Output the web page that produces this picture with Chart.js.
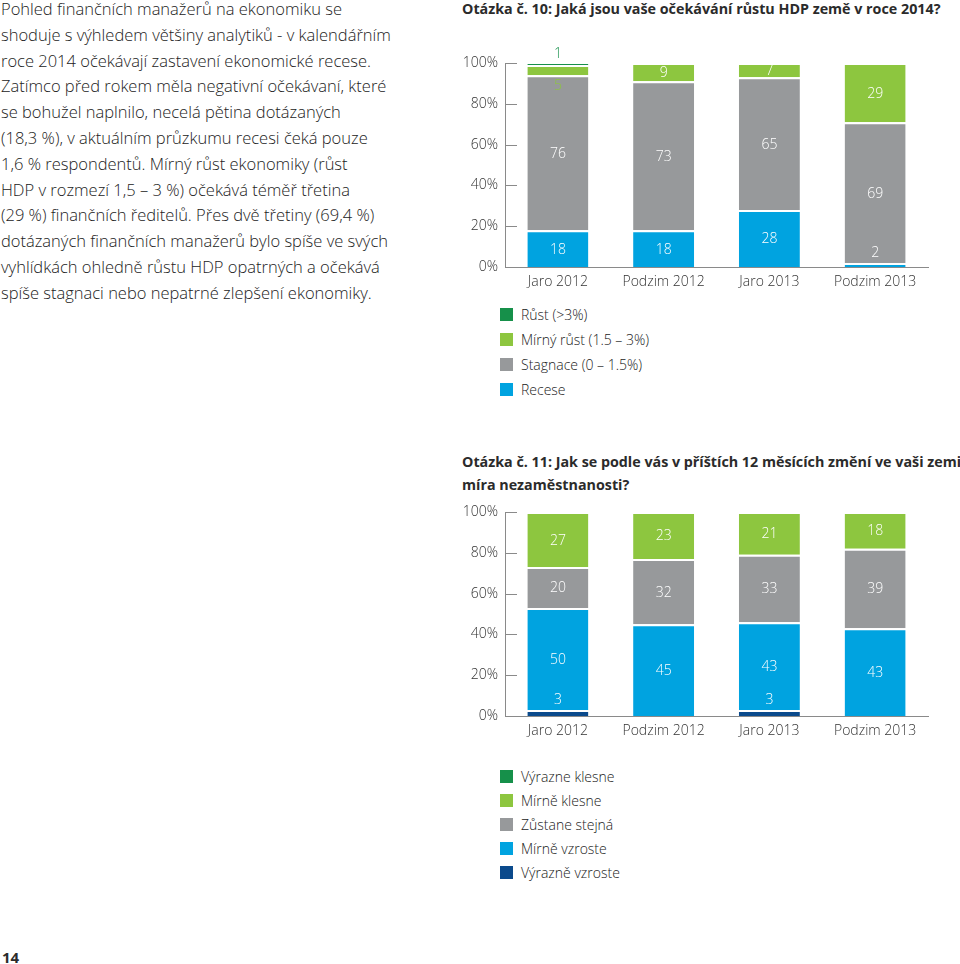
<!DOCTYPE html>
<html>
<head>
<meta charset="utf-8">
<script src="https://cdn.jsdelivr.net/npm/chart.js@4"></script>
<style>
  body { margin: 0; width: 960px; height: 964px; background: #fff; position: relative; overflow: hidden; font-family: "Open Sans", sans-serif; color: #2b2b2b; }
  .intro { position: absolute; left: 1px; top: -4px; font-size: 16.5px; line-height: 25.8px; font-weight: 300; white-space: nowrap; color: #222; }
  .title { position: absolute; left: 462px; font-size: 14.3px; font-weight: 700; line-height: 23px; white-space: nowrap; }
  .box { position: absolute; left: 455px; width: 480px; height: 260px; }
  .legend { position: absolute; font-size: 14px; font-weight: 300; color: #222; }
  .legend div { display: flex; align-items: center; white-space: nowrap; }
  .legend span { display: inline-block; width: 13px; height: 13px; margin-right: 8px; }
  .page { position: absolute; left: 2px; top: 947px; font-size: 15px; font-weight: 700; }
</style>
</head>
<body>
<div class="intro">
Pohled finančních manažerů na ekonomiku se<br>
shoduje s výhledem většiny analytiků - v kalendářním<br>
roce 2014 očekávají zastavení ekonomické recese.<br>
Zatímco před rokem měla negativní očekávaní, které<br>
se bohužel naplnilo, necelá pětina dotázaných<br>
(18,3 %), v aktuálním průzkumu recesi čeká pouze<br>
1,6 % respondentů. Mírný růst ekonomiky (růst<br>
HDP v rozmezí 1,5 – 3 %) očekává téměř třetina<br>
(29 %) finančních ředitelů. Přes dvě třetiny (69,4 %)<br>
dotázaných finančních manažerů bylo spíše ve svých<br>
vyhlídkách ohledně růstu HDP opatrných a očekává<br>
spíše stagnaci nebo nepatrné zlepšení ekonomiky.
</div>

<div class="title" style="top:-3px">Otázka č. 10: Jaká jsou vaše očekávání růstu HDP země v roce 2014?</div>
<div class="box" style="top:40px"><canvas id="gdpChart" width="480" height="260"></canvas></div>
<div class="legend" id="gdpLegend" style="left:500px; top:302px"></div>

<div class="title" style="top:450px">Otázka č. 11: Jak se podle vás v příštích 12 měsících změní ve vaši zemi<br>míra nezaměstnanosti?</div>
<div class="box" style="top:489px"><canvas id="jobsChart" width="480" height="260"></canvas></div>
<div class="legend" id="jobsLegend" style="left:500px; top:764px"></div>

<div class="page">14</div>

<script>
const periods = ['Jaro 2012', 'Podzim 2012', 'Jaro 2013', 'Podzim 2013'];
const percentTicks = [0, 20, 40, 60, 80, 100];

// Otázka 10 (bottom to top)
const gdpRecese = [18, 18, 28, 2];
const gdpStagnace = [76, 73, 65, 69];
const gdpMirnyRust = [5, 9, 7, 29];
const gdpRust = [1, 0, 0, 0];

// Otázka 11 (bottom to top)
const jobsVyrazneVzroste = [3, 0, 3, 0];
const jobsMirneVzroste = [50, 45, 43, 43];
const jobsStejna = [20, 32, 33, 39];
const jobsMirneKlesne = [27, 23, 21, 18];
const jobsVyrazneKlesne = [0, 0, 0, 0];

const darkGreen = '#16904a';
const lightGreen = '#8dc63f';
const grey = '#97999b';
const blue = '#00a3e0';
const navy = '#0b4a8c';
const axisGrey = '#8a8a8a';

Chart.defaults.font.family = '"Open Sans", sans-serif';
Chart.defaults.font.size = 14;

// short tick marks drawn inside the plot, right of the y axis
const insideTicks = {
    id: 'insideTicks',
    afterDraw(chart) {
        const { ctx, chartArea, scales } = chart;
        ctx.save();
        ctx.strokeStyle = axisGrey;
        ctx.lineWidth = 1;
        percentTicks.forEach((t) => {
            const y = Math.round(scales.y.getPixelForValue(t)) + 0.5;
            ctx.beginPath();
            ctx.moveTo(chartArea.left, y);
            ctx.lineTo(chartArea.left + 12, y);
            ctx.stroke();
        });
        ctx.restore();
    },
};

const segmentLabels = {
    id: 'segmentLabels',
    afterDatasetsDraw(chart) {
        const { ctx, data } = chart;
        ctx.save();
        ctx.font = '300 14px "Open Sans"';
        ctx.textAlign = 'center';
        ctx.textBaseline = 'middle';
        data.labels.forEach((_, j) => {
            const filled = data.datasets
                .map((d, i) => (d.data[j] > 0 ? i : -1))
                .filter((i) => i >= 0);
            const lo = filled[0];
            const hi = filled[filled.length - 1];
            filled.forEach((i) => {
                const ds = data.datasets[i];
                const v = ds.data[j];
                const el = chart.getDatasetMeta(i).data[j];
                let y;
                let color = '#ffffff';
                if (v >= 6) {
                    y = (el.y + el.base) / 2 + 1;
                } else if (i === hi) {
                    y = el.y - 9;
                    color = ds.backgroundColor;
                } else if (i === lo) {
                    y = el.y - 10;
                } else {
                    y = el.base + 11;
                    color = ds.backgroundColor;
                }
                ctx.fillStyle = color;
                ctx.fillText(String(v), el.x, y);
            });
        });
        ctx.restore();
    },
};

const makeDataset = (label, values, color) => ({
    label,
    data: values,
    backgroundColor: color,
    borderColor: '#ffffff',
    borderWidth: { top: 2, right: 0, bottom: 0, left: 0 },
    borderSkipped: false,
    categoryPercentage: 1,
    barPercentage: 0.577,
});

const renderStacked = (id, datasets) => {
    new Chart(document.getElementById(id), {
        type: 'bar',
        data: { labels: periods, datasets },
        options: {
            responsive: false,
            animation: false,
            layout: { padding: { top: 23, right: 7, left: 0, bottom: 0 } },
            plugins: {
                legend: { display: false },
                tooltip: { enabled: false },
            },
            scales: {
                x: {
                    stacked: true,
                    grid: { display: false, drawTicks: false },
                    border: { color: axisGrey },
                    ticks: { color: '#333', padding: 7, font: { weight: 300 } },
                    afterFit: (scale) => { scale.height = 33; },
                },
                y: {
                    stacked: true,
                    min: 0,
                    max: 100,
                    grid: { display: false, drawTicks: false },
                    border: { color: axisGrey },
                    ticks: {
                        stepSize: 20,
                        color: '#333',
                        padding: 7,
                        font: { weight: 300 },
                        callback: (value) => `${value}%`,
                    },
                    afterFit: (scale) => { scale.width = 50; },
                },
            },
        },
        plugins: [insideTicks, segmentLabels],
    });
};

const renderLegend = (id, datasets, rowHeight) => {
    const box = document.getElementById(id);
    [...datasets].reverse().forEach((ds) => {
        const row = document.createElement('div');
        row.style.height = rowHeight + 'px';
        row.innerHTML = `<span style="background:${ds.backgroundColor}"></span>${ds.label}`;
        box.appendChild(row);
    });
};

const gdpSets = [
    makeDataset('Recese', gdpRecese, blue),
    makeDataset('Stagnace (0 – 1.5%)', gdpStagnace, grey),
    makeDataset('Mírný růst (1.5 – 3%)', gdpMirnyRust, lightGreen),
    makeDataset('Růst (>3%)', gdpRust, darkGreen),
];

const jobsSets = [
    makeDataset('Výrazně vzroste', jobsVyrazneVzroste, navy),
    makeDataset('Mírně vzroste', jobsMirneVzroste, blue),
    makeDataset('Zůstane stejná', jobsStejna, grey),
    makeDataset('Mírně klesne', jobsMirneKlesne, lightGreen),
    makeDataset('Výrazne klesne', jobsVyrazneKlesne, darkGreen),
];

renderStacked('gdpChart', gdpSets);
renderStacked('jobsChart', jobsSets);
renderLegend('gdpLegend', gdpSets, 25);
renderLegend('jobsLegend', jobsSets, 24);
</script>
</body>
</html>
